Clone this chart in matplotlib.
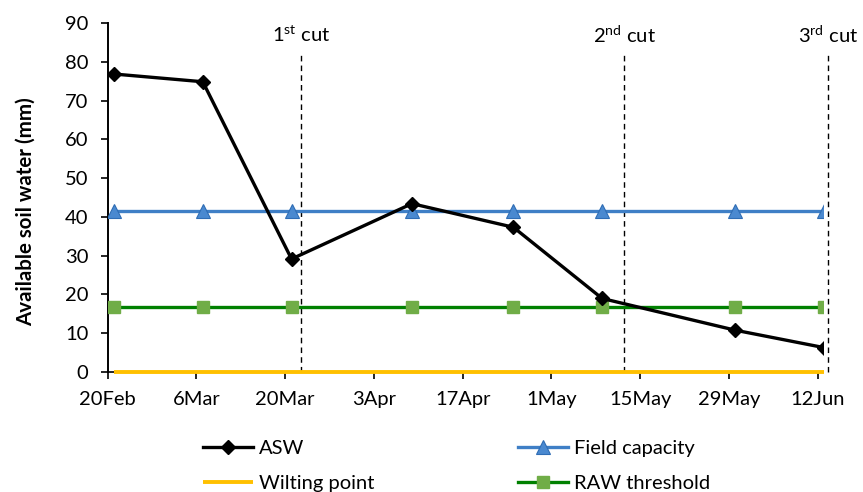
import matplotlib
matplotlib.use("Agg")
import matplotlib.pyplot as plt
import numpy as np

plt.rcParams['font.family'] = ['Lato', 'DejaVu Sans']
plt.rcParams['mathtext.fontset'] = 'custom'
plt.rcParams['mathtext.rm'] = 'Lato'
plt.rcParams['mathtext.it'] = 'Lato:italic'
plt.rcParams['mathtext.bf'] = 'Lato:bold'

# ---- data ----
dates = np.array(['2015-02-21', '2015-03-07', '2015-03-21', '2015-04-09',
                  '2015-04-25', '2015-05-09', '2015-05-30', '2015-06-13'],
                 dtype='datetime64[D]')
asw = [76.9, 74.9, 29.1, 43.4, 37.3, 18.9, 10.7, 6.2]
field_capacity = [41.6] * 8
raw_threshold = [16.6] * 8
wilting_point = [0.0] * 8

tick_dates = np.array(['2015-02-20', '2015-03-06', '2015-03-20', '2015-04-03',
                       '2015-04-17', '2015-05-01', '2015-05-15', '2015-05-29',
                       '2015-06-12'], dtype='datetime64[D]')
tick_labels = ['20Feb', '6Mar', '20Mar', '3Apr', '17Apr', '1May', '15May',
               '29May', '12Jun']

cut_dates = np.array(['2015-03-22T12', '2015-05-12T12', '2015-06-13T14'],
                     dtype='datetime64[h]')
cut_labels = ['1$^{\\mathrm{st}}$ cut', '2$^{\\mathrm{nd}}$ cut',
              '3$^{\\mathrm{rd}}$ cut']
cut_top = 82.3

# ---- figure ----
fig = plt.figure(figsize=(8.63, 4.92), dpi=100)
ax = fig.add_axes([0.1248, 0.2447, 0.9533 - 0.1248, 0.9526 - 0.2447])

x = dates.astype('datetime64[h]').astype(object)
ax.plot(x, wilting_point, color='#FFC000', lw=2.8, label='Wilting point',
        solid_capstyle='butt', zorder=3, clip_on=False)
ax.plot(x, raw_threshold, color='#008000', lw=2.4, marker='s', ms=8.5,
        mfc='#70AD47', mec='#70AD47', label='RAW threshold', zorder=4)
ax.plot(x, field_capacity, color='#3F7FC6', lw=2.4, marker='^', ms=10,
        mfc='#4A89D0', mec='#2F6DB5', mew=0.8, label='Field capacity', zorder=5)
ax.plot(x, asw, color='black', lw=2.4, marker='D', ms=7.5,
        mfc='black', mec='black', label='ASW', zorder=6)

for cd, cl in zip(cut_dates.astype(object), cut_labels):
    ax.plot([cd, cd], [0, cut_top], color='black', lw=1.0,
            ls=(0, (4, 3)), clip_on=False, zorder=2)
    ax.text(cd, cut_top + 2.0, cl, ha='center', va='bottom', fontsize=14.5,
            clip_on=False)

ax.set_xlim(np.datetime64('2015-02-20').astype(object),
            np.datetime64('2015-06-12T19', 'h').astype(object))
ax.set_ylim(0, 90)
ax.set_yticks(range(0, 91, 10))
ax.set_xticks(tick_dates.astype(object))
ax.set_xticklabels(tick_labels)
ax.tick_params(axis='both', direction='out', length=5.0, width=1.2,
               labelsize=14.5, colors='black')
ax.tick_params(axis='y', pad=9)
ax.tick_params(axis='x', pad=9)
for s in ['top', 'right']:
    ax.spines[s].set_visible(False)
ax.spines['left'].set_linewidth(1.4)
ax.spines['bottom'].set_linewidth(1.2)

fig.text(25.5 / 863, 1 - 212 / 492, 'Available soil water (mm)',
         rotation=90, ha='center', va='center', fontsize=14.8,
         fontweight='bold')

handles, labels = ax.get_legend_handles_labels()
order = ['ASW', 'Wilting point', 'Field capacity', 'RAW threshold']
hmap = dict(zip(labels, handles))
leg = fig.legend([hmap[o] for o in order], order, ncol=2,
                 loc='upper left', bbox_to_anchor=(0.235, 0.105),
                 frameon=False, fontsize=14.5, handlelength=2.5,
                 handletextpad=0.3, columnspacing=7.1, labelspacing=0.85,
                 borderaxespad=0, borderpad=0)

fig.savefig('out.png', dpi=100)
